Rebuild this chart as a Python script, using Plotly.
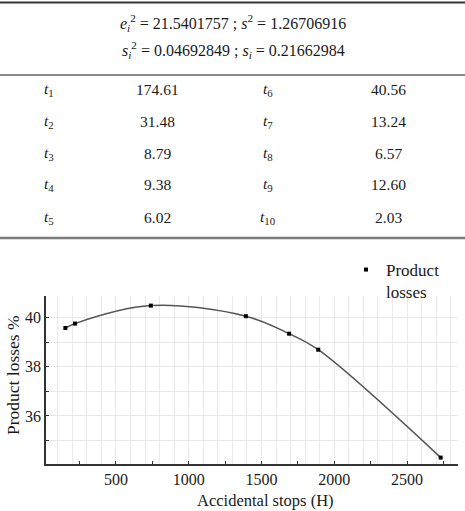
import plotly.graph_objects as go

# ---- data ----
header_lines = [
    "<i>e</i><sub><i>i</i></sub><sup>2</sup> = 21.5401757 ; <i>s</i><sup>2</sup> = 1.26706916",
    "<i>s</i><sub><i>i</i></sub><sup>2</sup> = 0.04692849 ; <i>s</i><sub><i>i</i></sub> = 0.21662984",
]
t_left = ["1", "2", "3", "4", "5"]
v_left = ["174.61", "31.48", "8.79", "9.38", "6.02"]
t_right = ["6", "7", "8", "9", "10"]
v_right = ["40.56", "13.24", "6.57", "12.60", "2.03"]

x_stops = [153, 219, 740, 1393, 1690, 1890, 2731]
y_losses = [39.57, 39.75, 40.48, 40.05, 39.34, 38.69, 34.31]

x_range = [20, 2850]
y_range = [34.05, 40.87]

x_title = "Accidental stops (H)"
y_title = "Product losses %"

W, H = 465, 511
ML, MR, MT, MB = 46, 7, 296, 47
FONT = "Liberation Serif"
TXT = "#1a1a1a"
GRID = "#e9e9e9"

fig = go.Figure()
# carrier for the fine-grid overlay axis (draws nothing)
fig.add_trace(go.Scatter(x=x_stops, y=y_losses, xaxis="x2", mode="none", showlegend=False, hoverinfo="skip"))
fig.add_trace(go.Scatter(
    x=x_stops, y=y_losses, mode="lines", line=dict(color="#555555", width=1.5, shape="spline", smoothing=1.0),
    showlegend=False, hoverinfo="skip"))
fig.add_trace(go.Scatter(
    x=x_stops, y=y_losses, mode="markers", name="Product<br>losses",
    marker=dict(color="black", size=4, symbol="square")))

pw = W - ML - MR
ph = H - MT - MB

def px_x(x):
    return (x - ML) / pw

def px_y(y):
    return (H - MB - y) / ph

ann = []
# table header
for i, txt in enumerate(header_lines):
    ann.append(dict(x=px_x(233), y=px_y(23 + 27 * i), xref="paper", yref="paper", text=txt,
                    showarrow=False, font=dict(family=FONT, size=16, color=TXT),
                    xanchor="center", yanchor="middle"))
row_y = [89, 121, 153, 184, 217]
cols = [(49, t_left, True), (157, v_left, False), (268, t_right, True), (388, v_right, False)]
for cx, vals, is_t in cols:
    for ry, v in zip(row_y, vals):
        txt = f"<i>t</i><sub>{v}</sub>" if is_t else v
        ann.append(dict(x=px_x(cx), y=px_y(ry), xref="paper", yref="paper", text=txt,
                        showarrow=False, font=dict(family=FONT, size=15.5, color=TXT),
                        xanchor="center", yanchor="middle"))
# axis titles
ann.append(dict(x=px_x(265), y=px_y(500), xref="paper", yref="paper", text=x_title, showarrow=False,
                font=dict(family=FONT, size=16.5, color=TXT), xanchor="center", yanchor="middle"))
ann.append(dict(x=px_x(13), y=px_y(375), xref="paper", yref="paper", text=y_title, showarrow=False,
                textangle=-90, font=dict(family=FONT, size=17.5, color=TXT), xanchor="center", yanchor="middle"))

shapes = [
    dict(type="line", xref="paper", yref="paper", x0=px_x(0), x1=px_x(465), y0=px_y(2.5), y1=px_y(2.5),
         line=dict(color="#333333", width=2)),
    dict(type="line", xref="paper", yref="paper", x0=px_x(0), x1=px_x(465), y0=px_y(75), y1=px_y(75),
         line=dict(color="#8a8a8a", width=2)),
    dict(type="line", xref="paper", yref="paper", x0=px_x(0), x1=px_x(465), y0=px_y(238), y1=px_y(238),
         line=dict(color="#7a7a7a", width=2.5)),
]

fig.update_layout(
    width=W, height=H,
    margin=dict(l=ML, r=MR, t=MT, b=MB),
    paper_bgcolor="white", plot_bgcolor="white",
    font=dict(family=FONT, size=16, color=TXT),
    annotations=ann, shapes=shapes,
    showlegend=True,
    legend=dict(x=px_x(346), y=px_y(252), xanchor="left", yanchor="top",
                font=dict(family=FONT, size=17, color=TXT), valign="top",
                bgcolor="rgba(0,0,0,0)", borderwidth=0),
    # fine vertical grid every 100 on an overlaid, label-free axis
    xaxis2=dict(range=x_range, overlaying="x", side="bottom", dtick=100, tick0=0, showgrid=True,
                gridcolor=GRID, gridwidth=1, showticklabels=False, ticks="", showline=False,
                zeroline=False, layer="below traces"),
    xaxis=dict(range=x_range, dtick=500, tick0=0,
               ticks="inside", ticklen=3, tickcolor="#333", showgrid=False, zeroline=False,
               showline=True, linecolor="#333", linewidth=1.5,
               minor=dict(dtick=250, tick0=0, showgrid=False, ticks="inside", ticklen=3, tickcolor="#333"),
               tickfont=dict(family=FONT, size=16, color=TXT)),
    yaxis=dict(range=y_range, dtick=2, tick0=0,
               ticks="inside", ticklen=3, tickcolor="#333", showgrid=True, gridcolor=GRID, gridwidth=1,
               zeroline=False, showline=True, linecolor="#333", linewidth=1.5,
               minor=dict(dtick=1, tick0=0, showgrid=True, gridcolor=GRID, gridwidth=1,
                          ticks="inside", ticklen=3, tickcolor="#333"),
               tickfont=dict(family=FONT, size=16, color=TXT)),
)

fig.write_html("out.html")
